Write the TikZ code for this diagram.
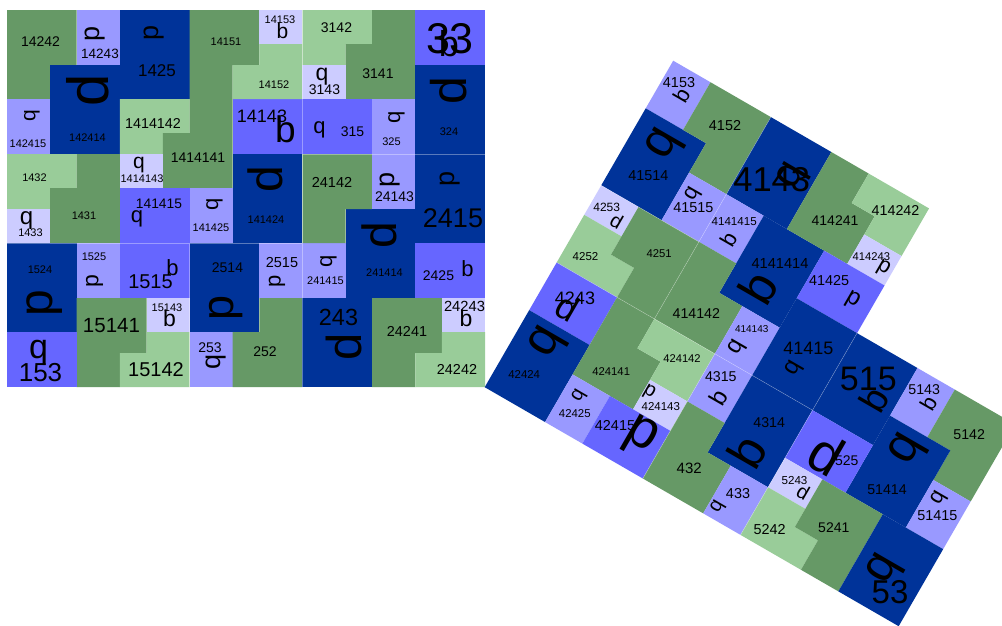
\documentclass[tikz,border=0pt]{standalone}
\usepackage{fontspec}
\setmainfont{Liberation Sans}
\definecolor{dkblue}{HTML}{003399}
\definecolor{mdblue}{HTML}{6666FF}
\definecolor{ltpur}{HTML}{9999FF}
\definecolor{vlpur}{HTML}{CCCCFF}
\definecolor{dkgrn}{HTML}{669966}
\definecolor{ltgrn}{HTML}{99CC99}
\tikzset{lbl/.style={inner sep=0pt,outer sep=0pt,text=black},
  seam/.style={draw=white,draw opacity=0.35,line width=0.5pt}}
\newcommand{\tlab}[5]{\node[lbl,font=\fontsize{#4}{#4}\selectfont] (#1) at (#2,#3) {#5};}
\newcommand{\tgly}[6]{\node[lbl,font=\fontsize{#4}{#4}\selectfont,rotate=#5] (#1) at (#2,#3) {#6};}
\begin{document}
\begin{tikzpicture}[x=1pt,y=-1pt]
\useasboundingbox (0,0) rectangle (1002,625);
\fill[white] (0,0) rectangle (1002,625);
\clip (0,0) rectangle (1002,625);
% ---------------- left part ----------------
\begin{scope}[shift={(7,10)}]
\fill[dkgrn] (0,0)--(69.7,0)--(69.7,55)--(43.1,55)--(43.1,89)--(0,89)--cycle;
\fill[ltpur] (69.7,0) rectangle (112.8,55);
\fill[dkblue] (112.8,0) rectangle (182.6,89);
\fill[dkblue] (43.1,55) rectangle (112.8,144);
\fill[ltpur] (0,89) rectangle (43.1,144);
\fill[ltgrn] (112.8,89)--(182.6,89)--(182.6,123)--(155.9,123)--(155.9,144)--(112.8,144)--cycle;
\fill[dkgrn] (182.6,89)--(225.7,89)--(225.7,178)--(155.9,178)--(155.9,123)--(182.6,123)--cycle;
\fill[vlpur] (112.8,144) rectangle (155.9,178);
\fill[mdblue] (112.8,178) rectangle (182.6,233);
\fill[ltpur] (182.6,178) rectangle (225.7,233);
\fill[mdblue] (225.7,89) rectangle (295.4,144);
\fill[dkblue] (225.7,144) rectangle (295.4,233);
\fill[dkgrn] (182.6,0)--(252.3,0)--(252.3,55)--(225.7,55)--(225.7,89)--(182.6,89)--cycle;
\fill[vlpur] (252.3,0) rectangle (295.4,34);
\fill[ltgrn] (252.3,34)--(295.4,34)--(295.4,89)--(225.7,89)--(225.7,55)--(252.3,55)--cycle;
\fill[ltgrn] (295.4,0)--(365.2,0)--(365.2,34)--(338.5,34)--(338.5,55)--(295.4,55)--cycle;
\fill[dkgrn] (365.2,0)--(408.3,0)--(408.3,89)--(338.5,89)--(338.5,34)--(365.2,34)--cycle;
\fill[vlpur] (295.4,55) rectangle (338.5,89);
\fill[mdblue] (408.3,0) rectangle (478,55);
\fill[dkblue] (408.3,55) rectangle (478,144);
\fill[mdblue] (295.4,89) rectangle (365.2,144);
\fill[ltpur] (365.2,89) rectangle (408.3,144);
\fill[ltgrn] (0,144)--(69.7,144)--(69.7,178)--(43.1,178)--(43.1,199)--(0,199)--cycle;
\fill[vlpur] (0,199) rectangle (43.1,233);
\fill[dkgrn] (69.7,144)--(112.8,144)--(112.8,233)--(43.1,233)--(43.1,178)--(69.7,178)--cycle;
\fill[dkblue] (0,233) rectangle (69.7,322);
\fill[ltpur] (69.7,233) rectangle (112.8,288);
\fill[mdblue] (112.8,233) rectangle (182.6,288);
\fill[vlpur] (139.5,288) rectangle (182.6,322);
\fill[dkgrn] (69.7,288)--(139.5,288)--(139.5,343)--(112.8,343)--(112.8,377)--(69.7,377)--cycle;
\fill[ltgrn] (139.5,322)--(182.6,322)--(182.6,377)--(112.8,377)--(112.8,343)--(139.5,343)--cycle;
\fill[mdblue] (0,322) rectangle (69.7,377);
\fill[dkblue] (182.6,233) rectangle (252.3,322);
\fill[ltpur] (182.6,322) rectangle (225.7,377);
\fill[dkgrn] (252.3,288)--(295.4,288)--(295.4,377)--(225.7,377)--(225.7,322)--(252.3,322)--cycle;
\fill[ltpur] (252.3,233) rectangle (295.4,288);
\fill[ltpur] (295.4,233) rectangle (338.5,288);
\fill[dkblue] (338.5,199) rectangle (408.3,288);
\fill[dkgrn] (295.4,144)--(365.2,144)--(365.2,199)--(338.5,199)--(338.5,233)--(295.4,233)--cycle;
\fill[ltpur] (365.2,144) rectangle (408.3,199);
\fill[dkblue] (408.3,144) rectangle (478,233);
\fill[mdblue] (408.3,233) rectangle (478,288);
\fill[vlpur] (434.9,288) rectangle (478,322);
\fill[dkgrn] (365.2,288)--(434.9,288)--(434.9,343)--(408.3,343)--(408.3,377)--(365.2,377)--cycle;
\fill[ltgrn] (434.9,322)--(478,322)--(478,377)--(408.3,377)--(408.3,343)--(434.9,343)--cycle;
\fill[dkblue] (295.4,288) rectangle (365.2,377);
% faint seams between blocks
\path[seam] (295.4,0)--(295.4,377) (295.4,144)--(478,144) (0,233)--(295.4,233) (182.6,233)--(182.6,377);
\end{scope}
% ---------------- right part ----------------
\begin{scope}[shift={(673.2,60.7)},rotate=-30]
\fill[ltpur] (0,0) rectangle (43.1,55);
\fill[dkblue] (0,55) rectangle (69.7,144);
\fill[dkgrn] (43.1,0)--(112.8,0)--(112.8,89)--(69.7,89)--(69.7,55)--(43.1,55)--cycle;
\fill[ltpur] (69.7,89) rectangle (112.8,144);
\fill[dkblue] (112.8,0) rectangle (182.6,89);
\fill[ltpur] (112.8,89) rectangle (155.9,144);
\fill[dkblue] (155.9,89) rectangle (225.7,178);
\fill[dkgrn] (182.6,0)--(225.7,0)--(225.7,34)--(252.3,34)--(252.3,89)--(182.6,89)--cycle;
\fill[ltgrn] (225.7,0)--(295.4,0)--(295.4,55)--(252.3,55)--(252.3,34)--(225.7,34)--cycle;
\fill[vlpur] (252.3,55) rectangle (295.4,89);
\fill[mdblue] (225.7,89) rectangle (295.4,144);
\fill[vlpur] (0,144) rectangle (43.1,178);
\fill[ltgrn] (0,178)--(43.1,178)--(43.1,199)--(69.7,199)--(69.7,233)--(0,233)--cycle;
\fill[dkgrn] (43.1,144)--(112.8,144)--(112.8,233)--(69.7,233)--(69.7,199)--(43.1,199)--cycle;
\fill[dkgrn] (112.8,144)--(155.9,144)--(155.9,178)--(182.6,178)--(182.6,233)--(112.8,233)--cycle;
\fill[ltpur] (182.6,178) rectangle (225.7,233);
\fill[dkblue] (225.7,144) rectangle (295.4,233);
\fill[mdblue] (0,233) rectangle (69.7,288);
\fill[dkblue] (0,288) rectangle (69.7,377);
\fill[dkgrn] (69.7,233)--(112.8,233)--(112.8,267)--(139.5,267)--(139.5,322)--(69.7,322)--cycle;
\fill[ltgrn] (112.8,233)--(182.6,233)--(182.6,288)--(139.5,288)--(139.5,267)--(112.8,267)--cycle;
\fill[vlpur] (139.5,288) rectangle (182.6,322);
\fill[ltpur] (69.7,322) rectangle (112.8,377);
\fill[mdblue] (112.8,322) rectangle (182.6,377);
\fill[ltpur] (182.6,233) rectangle (225.7,288);
\fill[dkblue] (225.7,233) rectangle (295.4,322);
\fill[dkgrn] (182.6,288)--(225.7,288)--(225.7,322)--(252.3,322)--(252.3,377)--(182.6,377)--cycle;
\fill[ltpur] (252.3,322) rectangle (295.4,377);
\fill[dkblue] (295.4,144) rectangle (365.2,233);
\fill[ltpur] (365.2,144) rectangle (408.3,199);
\fill[dkgrn] (408.3,144)--(478,144)--(478,233)--(434.9,233)--(434.9,199)--(408.3,199)--cycle;
\fill[dkblue] (365.2,199) rectangle (434.9,288);
\fill[ltpur] (434.9,233) rectangle (478,288);
\fill[mdblue] (295.4,233) rectangle (365.2,288);
\fill[vlpur] (295.4,288) rectangle (338.5,322);
\fill[ltgrn] (295.4,322)--(338.5,322)--(338.5,343)--(365.2,343)--(365.2,377)--(295.4,377)--cycle;
\fill[dkgrn] (338.5,288)--(408.3,288)--(408.3,377)--(365.2,377)--(365.2,343)--(338.5,343)--cycle;
\fill[dkblue] (408.3,288) rectangle (478,377);
% faint seams between blocks
\path[seam] (112.8,0)--(112.8,233) (0,144)--(112.8,144) (0,233)--(295.4,233) (182.6,233)--(182.6,377) (295.4,144)--(295.4,377);
\end{scope}
% ---------------- left labels ----------------
\tlab{l14242}{40.5}{41.5}{14}{14242}
\tlab{l14243}{100}{53.5}{13.5}{14243}
\tlab{l1425}{157}{71}{17}{1425}
\tlab{l142414}{87.5}{138}{11}{142414}
\tlab{l142415}{28}{144}{11}{142415}
\tlab{l1414142}{153}{123.5}{14.3}{1414142}
\tlab{l1414141}{198}{158}{14}{1414141}
\tlab{l1414143}{142}{178.5}{11}{1414143}
\tlab{l141415}{159}{203.5}{13.8}{141415}
\tlab{l141425}{211}{227.5}{11}{141425}
\tlab{l14143}{262}{116.5}{18}{14143}
\tlab{l141424}{266}{220}{11}{141424}
\tlab{l14151}{226}{42}{11}{14151}
\tlab{l14153}{280}{19.5}{11}{14153}
\tlab{l14152}{274}{84.5}{11}{14152}
\tlab{l3142}{336.5}{27.5}{14}{3142}
\tlab{l3141}{378}{73.5}{14}{3141}
\tlab{l3143}{324.5}{90}{14}{3143}
\tlab{l33}{450}{39}{43}{33}
\tlab{l324}{449}{131.5}{11}{324}
\tlab{l315}{352.5}{131.5}{14}{315}
\tlab{l325}{391.5}{141.5}{11}{325}
\tlab{l1432}{34.5}{178}{11}{1432}
\tlab{l1433}{30.5}{232.5}{11}{1433}
\tlab{l1431}{84}{215.5}{11}{1431}
\tlab{l1524}{40}{269.5}{11}{1524}
\tlab{l1525}{94}{256.5}{11}{1525}
\tlab{l1515}{150.5}{281.5}{20}{1515}
\tlab{l15143}{167}{308}{11}{15143}
\tlab{l15141}{111.5}{325.5}{20.5}{15141}
\tlab{l15142}{156}{370}{20}{15142}
\tlab{l153}{40.5}{372.5}{26}{153}
\tlab{l2514}{227.5}{268}{14}{2514}
\tlab{l253}{210}{347.5}{14}{253}
\tlab{l252}{265}{351.5}{14}{252}
\tlab{l2515}{282}{262.5}{14.5}{2515}
\tlab{l241415}{325.5}{280.5}{11}{241415}
\tlab{l241414}{384.5}{272.5}{11}{241414}
\tlab{l24142}{332}{182.5}{14.5}{24142}
\tlab{l24143}{394.5}{197}{14}{24143}
\tlab{l2415}{453}{218}{27}{2415}
\tlab{l2425}{438.5}{276}{14}{2425}
\tlab{l24243}{464.5}{306}{14.7}{24243}
\tlab{l24241}{407}{331}{14.4}{24241}
\tlab{l24242}{457}{369}{14.4}{24242}
\tlab{l243}{338.5}{317.5}{23.4}{243}
% left glyphs
\tgly{g14243}{95.5}{34}{27}{90}{p}
\tgly{g1425}{154}{33}{27}{90}{p}
\tgly{g142414}{88}{90}{58}{90}{d}
\tgly{g142415}{32}{116}{21}{90}{q}
\tgly{g1414143}{139}{165.5}{21}{0}{q}
\tgly{g141415}{137}{219}{22}{0}{q}
\tgly{g141425}{214.5}{204.5}{22}{90}{q}
\tgly{g14143}{285.5}{129.5}{37}{0}{b}
\tgly{g141424}{265.5}{179}{48}{90}{d}
\tgly{g14153}{282.5}{30.5}{21}{0}{b}
\tgly{g3143}{322}{76.5}{23}{0}{q}
\tgly{g33}{449}{44}{36}{0}{b}
\tgly{g324}{448.5}{91}{50}{90}{d}
\tgly{g315}{319.5}{130}{22}{0}{q}
\tgly{g325}{396.5}{117}{22}{90}{q}
\tgly{g1433}{26.5}{221}{24}{0}{q}
\tgly{g1524}{44.5}{303.5}{48}{90}{p}
\tgly{g1525}{94.5}{281}{23}{90}{p}
\tgly{g1515}{172.5}{267.5}{22}{0}{b}
\tgly{g15143}{169.5}{318.5}{23}{0}{b}
\tgly{g153}{38.5}{352.5}{34}{0}{q}
\tgly{g2514}{226.5}{308}{45}{90}{p}
\tgly{g253}{216}{361.5}{27}{90}{q}
\tgly{g2515}{277}{281}{22}{90}{p}
\tgly{g241415}{328.5}{261}{22}{90}{q}
\tgly{g241414}{379.5}{235}{48}{90}{d}
\tgly{g24143}{390}{179.5}{27}{90}{p}
\tgly{g2415}{450}{179}{27}{90}{p}
\tgly{g2425}{467.5}{269}{22}{0}{b}
\tgly{g24243}{466}{318.5}{23}{0}{b}
\tgly{g243}{344}{346.5}{49}{90}{d}
% ---------------- right labels ----------------
\tlab{r4153}{679}{83}{14.4}{4153}
\tlab{r4152}{725}{126}{14.4}{4152}
\tlab{r41514}{648.3}{175.8}{14.4}{41514}
\tlab{r41515}{693.3}{207.5}{14.4}{41515}
\tlab{r4253}{606.7}{207.5}{12}{4253}
\tlab{r4252}{585.5}{256.2}{11.5}{4252}
\tlab{r4251}{659.2}{253.8}{11.3}{4251}
\tlab{r4141415}{734.2}{221.3}{11.6}{4141415}
\tlab{r4143}{771.7}{179.2}{34.5}{4143}
\tlab{r414241}{835}{220.5}{14}{414241}
\tlab{r414242}{895.5}{210.5}{14.3}{414242}
\tlab{r414243}{871.3}{256.2}{11.2}{414243}
\tlab{r4141414}{780}{263.8}{14.6}{4141414}
\tlab{r41425}{829.2}{280.2}{14.4}{41425}
\tlab{r4243}{575}{297.8}{18}{4243}
\tlab{r42424}{524.2}{375}{11.4}{42424}
\tlab{r424141}{611.2}{371.3}{11.3}{424141}
\tlab{r424142}{682}{358.7}{11.2}{424142}
\tlab{r424143}{660.8}{406.2}{11.5}{424143}
\tlab{r42425}{574.8}{413.8}{11.4}{42425}
\tlab{r42415}{615}{425.8}{14.4}{42415}
\tlab{r414142}{696.3}{313.3}{14.2}{414142}
\tlab{r432}{689.2}{468.3}{15}{432}
\tlab{r4315}{720.8}{376.3}{14.2}{4315}
\tlab{r414143}{751.7}{329.2}{10}{414143}
\tlab{r4314}{769.2}{422.5}{14.2}{4314}
\tlab{r433}{738}{494}{14.4}{433}
\tlab{r41415}{808.3}{348.3}{18}{41415}
\tlab{r515}{868.3}{379.2}{34}{515}
\tlab{r5143}{924.2}{390}{14.2}{5143}
\tlab{r5142}{969.2}{434.2}{14.2}{5142}
\tlab{r51414}{887}{489.2}{14.2}{51414}
\tlab{r51415}{937.3}{515.8}{14.4}{51415}
\tlab{r525}{846.7}{460.8}{14}{525}
\tlab{r5243}{794.5}{480}{11.6}{5243}
\tlab{r5242}{769.7}{530}{14.4}{5242}
\tlab{r5241}{833.8}{527.5}{14}{5241}
\tlab{r53}{890}{592.5}{33}{53}
% right glyphs
\tgly{h4153}{681.7}{95.3}{22}{60}{b}
\tgly{h41514}{665}{145}{50}{60}{q}
\tgly{h41515}{693}{194}{22}{60}{q}
\tgly{h4253}{616.7}{220.8}{20}{-30}{d}
\tgly{h4141415}{729}{239}{22}{60}{b}
\tgly{h4143}{793}{176.7}{42}{60}{q}
\tgly{h414243}{883.3}{268.3}{22}{-30}{p}
\tgly{h4141414}{758.3}{287.5}{50}{60}{b}
\tgly{h41425}{852.5}{300}{24}{-30}{p}
\tgly{h4243}{568}{307.5}{36}{-30}{d}
\tgly{h42424}{548.3}{343.3}{50}{60}{q}
\tgly{h424143}{649.2}{392.5}{20}{-30}{p}
\tgly{h42425}{579.2}{395.8}{20}{60}{q}
\tgly{h42415}{640}{437.5}{55}{-30}{p}
\tgly{h4315}{718.3}{397.5}{24}{60}{b}
\tgly{h414143}{737.5}{347.5}{24}{60}{q}
\tgly{h4314}{746.7}{451.7}{50}{60}{b}
\tgly{h433}{718}{507}{20}{60}{q}
\tgly{h41415}{794.2}{369.2}{24}{60}{q}
\tgly{h515}{874.2}{400}{38}{60}{b}
\tgly{h5143}{928.3}{403.3}{22}{60}{b}
\tgly{h51414}{908.3}{450}{50}{60}{q}
\tgly{h51415}{939.2}{498.3}{22}{60}{q}
\tgly{h525}{826.7}{454.2}{55}{-30}{d}
\tgly{h5243}{803.3}{492.5}{20}{-30}{d}
\tgly{h53}{885}{570}{48}{60}{q}
\end{tikzpicture}
\end{document}
